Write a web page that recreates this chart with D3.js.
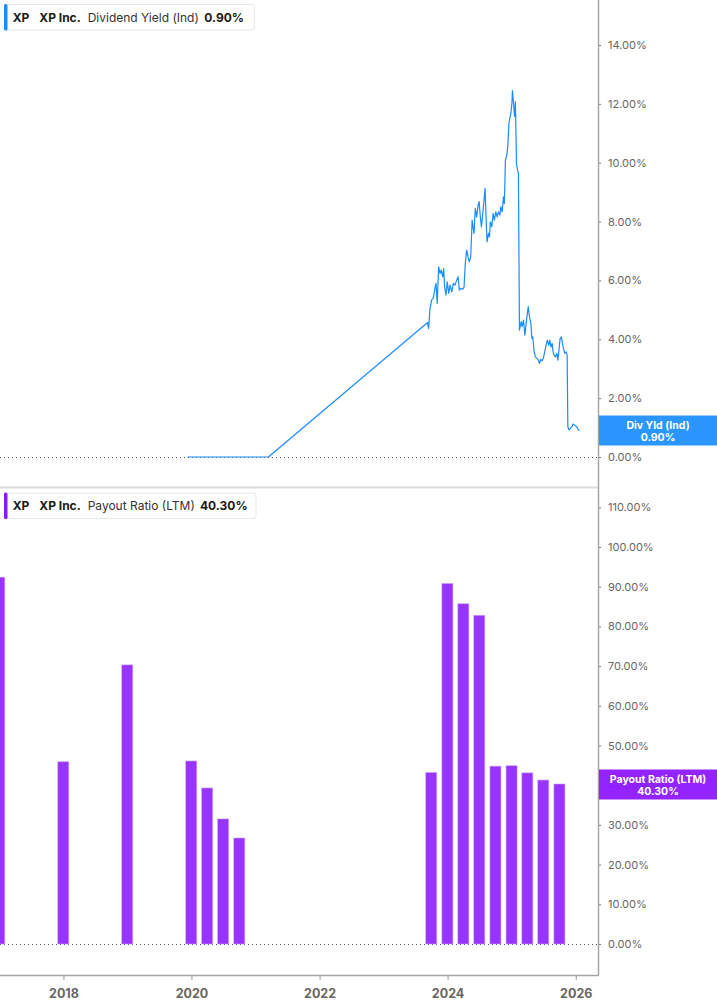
<!DOCTYPE html>
<html>
<head>
<meta charset="utf-8">
<script src="https://cdn.jsdelivr.net/npm/d3@7"></script>
<style>
  html, body { margin: 0; padding: 0; background: #fff; }
  svg { display: block; font-family: Inter, "Open Sans", sans-serif; }
</style>
</head>
<body>
<svg id="chart" width="717" height="1005"></svg>
<script>
// ─── Data ──────────────────────────────────────────────
const yieldDates = [
  "2019-12-10","2021-03-15",
  "2023-09-09","2023-09-15","2023-09-22","2023-10-02","2023-10-11","2023-10-21","2023-10-27",
  "2023-11-03","2023-11-11","2023-11-19","2023-11-26","2023-12-04","2023-12-10","2023-12-15",
  "2023-12-23","2023-12-30","2024-01-08","2024-01-15","2024-01-25","2024-02-03","2024-02-12",
  "2024-02-22","2024-03-01","2024-03-08","2024-03-16","2024-03-28","2024-04-04","2024-04-11",
  "2024-04-19","2024-04-27","2024-05-04","2024-05-12","2024-05-20","2024-05-25","2024-05-31",
  "2024-06-07","2024-06-15","2024-06-23","2024-06-29","2024-07-04","2024-07-12","2024-07-20",
  "2024-07-27","2024-08-02","2024-08-08","2024-08-13","2024-08-21","2024-08-27","2024-09-01",
  "2024-09-09","2024-09-17","2024-09-24","2024-10-02","2024-10-10","2024-10-17","2024-10-25",
  "2024-10-31","2024-11-07","2024-11-15","2024-11-20","2024-11-26","2024-12-04","2024-12-10",
  "2024-12-16","2024-12-21","2024-12-27","2025-01-02","2025-01-05","2025-01-11","2025-01-17",
  "2025-01-22","2025-01-28","2025-02-03","2025-02-08","2025-02-14","2025-02-24","2025-03-01",
  "2025-03-09","2025-03-17","2025-03-24","2025-04-05","2025-04-12","2025-04-20","2025-04-26",
  "2025-05-01","2025-05-09","2025-05-16","2025-05-24","2025-06-02","2025-06-08","2025-06-16",
  "2025-06-23","2025-06-30","2025-07-08","2025-07-16","2025-07-23","2025-07-31","2025-08-06",
  "2025-08-12","2025-08-19","2025-08-25","2025-08-31","2025-09-07","2025-09-15","2025-09-21",
  "2025-09-26","2025-10-04","2025-10-11","2025-10-17","2025-10-23","2025-10-31","2025-11-07",
  "2025-11-13","2025-11-17","2025-11-24","2025-12-02","2025-12-10","2025-12-17","2025-12-25",
  "2026-01-02","2026-01-09","2026-01-16","2026-01-22"
];
const yieldValues = [
  0, 0,
  4.57, 4.37, 5.00, 5.34, 5.39, 5.73, 5.90,
  5.22, 6.46, 6.24, 6.35, 6.12, 6.40, 5.78,
  5.50, 5.95, 5.56, 5.84, 5.61, 5.90, 5.84,
  6.01, 6.12, 5.67, 5.73, 5.70, 5.78, 6.58,
  7.03, 6.80, 6.63, 6.80, 8.05, 7.82, 7.60,
  8.45, 8.16, 8.56, 8.68, 8.28, 7.82, 8.28,
  8.73, 9.13, 8.05, 7.31, 7.60, 7.48, 7.99,
  7.82, 8.28, 8.05, 8.33, 8.16, 8.33, 8.22,
  8.50, 8.33, 8.84, 8.62, 10.09, 10.26, 10.60,
  11.34, 11.51, 11.68, 12.02, 12.45, 12.02, 11.57,
  12.08, 9.98, 9.75, 9.64, 4.31, 4.60, 4.43,
  4.65, 4.14, 4.54, 5.11, 4.77, 4.54, 4.03,
  4.08, 3.57, 3.40, 3.35, 3.29, 3.18, 3.32,
  3.27, 3.35, 3.57, 3.80, 3.97, 3.80, 3.97,
  3.74, 3.86, 3.57, 3.46, 3.40, 3.52, 3.29,
  3.57, 4.03, 4.08, 3.86, 3.69, 3.52, 3.57,
  3.46, 1.03, 0.92, 0.97, 1.03, 1.12, 1.09,
  1.05, 1.01, 0.92, 0.90
];

const payoutDates = [
  "2016-12-31","2017-12-31","2018-12-31","2019-12-31","2020-03-31","2020-06-30","2020-09-30",
  "2023-09-30","2023-12-31","2024-03-31","2024-06-30","2024-09-30","2024-12-31","2025-03-31",
  "2025-06-30","2025-09-30"
];
const payoutValues = [
  92.4, 45.9, 70.3, 46.1, 39.3, 31.5, 26.7,
  43.2, 90.8, 85.7, 82.8, 44.8, 44.9, 43.1,
  41.3, 40.3
];

const yieldTicks = [0, 2, 4, 6, 8, 10, 12, 14];
const payoutTicks = [0, 10, 20, 30, 40, 50, 60, 70, 80, 90, 100, 110];
const yearTicks = ["2018-01-01", "2020-01-01", "2022-01-01", "2024-01-01", "2026-01-01"];

// ─── Layout ────────────────────────────────────────────
const PLOT_R = 598;
const parse = d3.timeParse("%Y-%m-%d");
const BLUE = "#1a8cff";
const PURPLE = "#9933ff";

const svg = d3.select("#chart");

const x = d3.scaleTime()
  .domain([parse("2017-01-04"), parse("2026-05-08")])
  .range([0, PLOT_R]);

const yTop = d3.scaleLinear().domain([0, 14]).range([457, 45]);
const yBot = d3.scaleLinear().domain([0, 110]).range([944, 507.3]);

svg.append("defs").append("clipPath").attr("id", "plot-clip")
  .append("rect").attr("x", 0).attr("y", 0).attr("width", PLOT_R).attr("height", 975);

// Panel separator
svg.append("line")
  .attr("x1", 0).attr("x2", PLOT_R).attr("y1", 487.5).attr("y2", 487.5)
  .attr("stroke", "#dcdcdc").attr("stroke-width", 2);

// Zero reference lines (dotted)
[yTop(0), yBot(0)].forEach(yy => {
  svg.append("line")
    .attr("x1", 0).attr("x2", PLOT_R).attr("y1", yy + 0.5).attr("y2", yy + 0.5)
    .attr("stroke", "#555").attr("stroke-width", 1)
    .attr("stroke-dasharray", "1,3");
});

// ─── Dividend yield line ───────────────────────────────
const yieldData = yieldDates.map((d, i) => ({ date: parse(d), value: yieldValues[i] }));
const line = d3.line()
  .x(d => x(d.date))
  .y(d => yTop(d.value));

svg.append("path")
  .datum(yieldData)
  .attr("clip-path", "url(#plot-clip)")
  .attr("fill", "none")
  .attr("stroke", BLUE)
  .attr("stroke-width", 1.2)
  .attr("stroke-linejoin", "round")
  .attr("d", line);

// ─── Payout ratio bars ─────────────────────────────────
const payoutData = payoutDates.map((d, i) => ({ date: parse(d), value: payoutValues[i] }));
const quarterW = x(parse("2020-04-01")) - x(parse("2020-01-01"));
const barW = quarterW * 0.69;

svg.append("g")
  .attr("clip-path", "url(#plot-clip)")
  .selectAll("rect")
  .data(payoutData)
  .enter().append("rect")
  .attr("x", d => x(d.date) - barW / 2)
  .attr("y", d => yBot(d.value))
  .attr("width", barW)
  .attr("height", d => yBot(0) - yBot(d.value))
  .attr("fill", PURPLE)
  .attr("stroke", "#c79cff")
  .attr("stroke-width", 0.6);

// ─── Axes ──────────────────────────────────────────────
const fmtPct = v => v.toFixed(2) + "%";

const axisTop = d3.axisRight(yTop).tickValues(yieldTicks).tickSize(3).tickPadding(7).tickFormat(fmtPct);
const axisBot = d3.axisRight(yBot).tickValues(payoutTicks).tickSize(3).tickPadding(7).tickFormat(fmtPct);

function styleY(g) {
  g.select(".domain").remove();
  g.selectAll(".tick line").attr("stroke", "#777");
  g.selectAll(".tick text")
    .attr("fill", "#666")
    .attr("font-size", 11)
    .attr("font-family", "Inter, sans-serif");
}

svg.append("g").attr("transform", `translate(${PLOT_R},0)`).call(axisTop).call(styleY);
svg.append("g").attr("transform", `translate(${PLOT_R},0)`).call(axisBot).call(styleY);

// Right axis spine
svg.append("line")
  .attr("x1", PLOT_R + 0.5).attr("x2", PLOT_R + 0.5).attr("y1", 0).attr("y2", 975.5)
  .attr("stroke", "#a6a6a6").attr("stroke-width", 1.5);

// Bottom time axis
const axisX = d3.axisBottom(x)
  .tickValues(yearTicks.map(parse))
  .tickSize(5).tickPadding(9)
  .tickFormat(d3.timeFormat("%Y"));

svg.append("g")
  .attr("transform", "translate(0,975)")
  .call(axisX)
  .call(g => {
    g.select(".domain").attr("d", `M0,0.5H${PLOT_R + 1}`).attr("stroke", "#a6a6a6").attr("stroke-width", 1.5);
    g.selectAll(".tick line").attr("stroke", "#999");
    g.selectAll(".tick text")
      .attr("fill", "#666")
      .attr("font-size", 12.5)
      .attr("font-weight", "bold")
      .attr("font-family", "Inter, sans-serif");
  });

// ─── Right-side value tags ─────────────────────────────
function valueTag(y0, h, color, l1, l2) {
  const g = svg.append("g");
  g.append("rect")
    .attr("x", PLOT_R + 1).attr("y", y0).attr("width", 717 - PLOT_R - 1).attr("height", h)
    .attr("fill", color).attr("opacity", 0.94);
  g.append("text")
    .attr("x", 658).attr("y", y0 + 13.5)
    .attr("text-anchor", "middle").attr("fill", "#fff")
    .attr("font-size", 10.5).attr("font-weight", "bold")
    .text(l1);
  g.append("text")
    .attr("x", 658).attr("y", y0 + 25)
    .attr("text-anchor", "middle").attr("fill", "#fff")
    .attr("font-size", 10.5).attr("font-weight", "bold")
    .text(l2);
}
valueTag(415.5, 30, "#1e8fff", "Div Yld (Ind)", "0.90%");
valueTag(769.5, 30, "#8c16ff", "Payout Ratio (LTM)", "40.30%");

// ─── Legends ───────────────────────────────────────────
function legend(y0, w, color, label, value, valueX) {
  const g = svg.append("g");
  g.append("rect")
    .attr("x", 4.5).attr("y", y0 + 0.5).attr("width", w).attr("height", 25.5)
    .attr("rx", 3).attr("fill", "#fff").attr("stroke", "#e8e8e8");
  g.append("rect")
    .attr("x", 4).attr("y", y0).attr("width", 3.5).attr("height", 26.5)
    .attr("rx", 1.5).attr("fill", color);
  const base = y0 + 17.5;
  const t = (xx, txt, bold) => g.append("text")
    .attr("x", xx).attr("y", base)
    .attr("fill", bold ? "#1a1a1a" : "#333")
    .attr("font-size", 12)
    .attr("font-weight", bold ? "bold" : "normal")
    .text(txt);
  t(12.7, "XP", true);
  t(39.3, "XP Inc.", true);
  t(87.7, label, false);
  t(valueX, value, true);
}
legend(4, 250, BLUE, "Dividend Yield (Ind)", "0.90%", 204.3);
legend(492.5, 251.5, "#8c16ff", "Payout Ratio (LTM)", "40.30%", 200);
</script>
</body>
</html>
